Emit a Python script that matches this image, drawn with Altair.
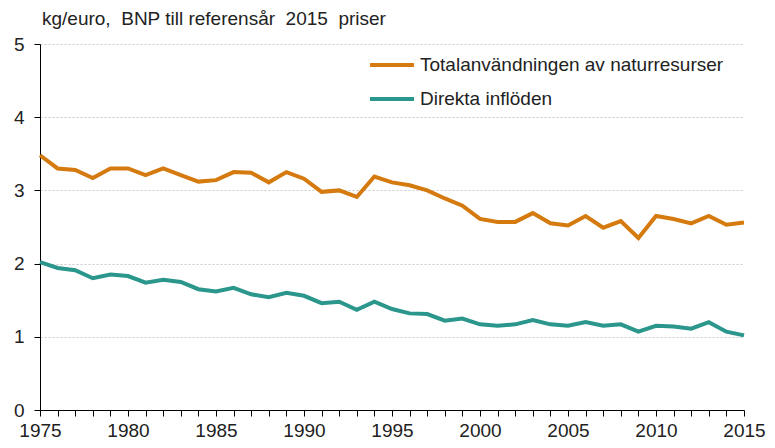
import altair as alt
import pandas as pd

years = list(range(1975, 2016))
total = [3.48, 3.30, 3.28, 3.17, 3.30, 3.30, 3.21, 3.30, 3.21, 3.12,
         3.14, 3.25, 3.24, 3.11, 3.25, 3.16, 2.98, 3.00, 2.91, 3.19,
         3.11, 3.07, 3.00, 2.89, 2.79, 2.61, 2.57, 2.57, 2.69, 2.55,
         2.52, 2.65, 2.49, 2.58, 2.35, 2.65, 2.61, 2.55, 2.65, 2.53, 2.56]
direct = [2.02, 1.94, 1.91, 1.80, 1.85, 1.83, 1.74, 1.78, 1.75, 1.65,
          1.62, 1.67, 1.58, 1.54, 1.60, 1.56, 1.46, 1.48, 1.37, 1.48,
          1.38, 1.32, 1.31, 1.22, 1.25, 1.17, 1.15, 1.17, 1.23, 1.17,
          1.15, 1.20, 1.15, 1.17, 1.07, 1.15, 1.14, 1.11, 1.20, 1.07, 1.02]
series_names = ["Totalanvändningen av naturresurser", "Direkta inflöden"]
series_colors = ["#d57a0e", "#2a968c"]
y_ticks = [0, 1, 2, 3, 4, 5]
title_text = "kg/euro,\u00a0\u00a0BNP till referensår\u00a0\u00a02015\u00a0\u00a0priser"

rows = []
for y, t, d in zip(years, total, direct):
    rows.append({"year": y, "value": t, "series": series_names[0]})
    rows.append({"year": y, "value": d, "series": series_names[1]})
df = pd.DataFrame(rows)

FONT = "Liberation Sans"
FS = 19

chart = alt.Chart(df).mark_line(strokeWidth=4, strokeJoin="miter").encode(
    x=alt.X("year:Q",
            scale=alt.Scale(domain=[1975, 2015], nice=False, zero=False),
            axis=alt.Axis(title=None, values=years, format="d",
                          labelExpr="datum.value % 5 == 0 ? datum.label : ''",
                          labelOverlap=False, labelFlush=False,
                          grid=False, tickSize=6, labelPadding=5,
                          domainColor="#000", tickColor="#000")),
    y=alt.Y("value:Q",
            scale=alt.Scale(domain=[0, 5], nice=False),
            axis=alt.Axis(title=None, values=y_ticks, format="d",
                          grid=True, gridColor="#c8c8c8", gridDash=[2, 2],
                          tickSize=6, labelPadding=10,
                          domainColor="#000", tickColor="#000")),
    color=alt.Color("series:N",
                    scale=alt.Scale(domain=series_names, range=series_colors),
                    sort=series_names,
                    legend=alt.Legend(title=None, orient="none",
                                      legendX=328, legendY=-3,
                                      symbolType="stroke", symbolSize=1936,
                                      symbolStrokeWidth=4, rowPadding=0,
                                      labelFontSize=FS, labelOffset=4,
                                      labelLimit=500, padding=0)),
).properties(
    width=704,
    height=366,
    title=alt.Title(title_text,
                    anchor="start", frame="group", fontSize=FS,
                    fontWeight="normal", offset=6, dx=2, color="#222"),
    autosize=alt.AutoSizeParams(type="none"),
    padding={"left": 32, "top": 36, "right": 23, "bottom": 30},
).configure_view(stroke=None).configure_axis(
    labelFont=FONT, labelFontSize=FS, labelColor="#222",
).configure_legend(labelFont=FONT, labelColor="#222").configure_title(font=FONT)

chart.save("out.html", embed_options={"renderer": "svg", "actions": False})
